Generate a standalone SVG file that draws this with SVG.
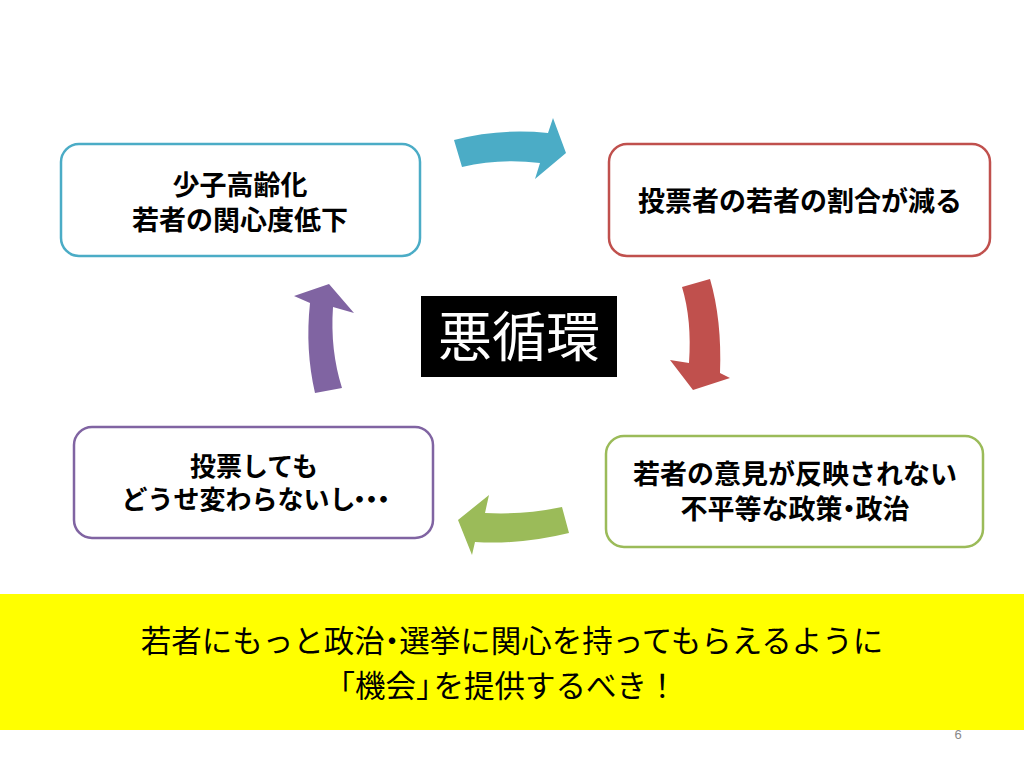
<svg xmlns="http://www.w3.org/2000/svg" width="1024" height="768" viewBox="0 0 1024 768">
<style>
.box{fill:#fff;stroke-width:2.5}
.t{font-family:"Noto Sans CJK JP","Liberation Sans",sans-serif;font-weight:bold;font-size:27px;fill:#000;text-anchor:middle}
.y{font-family:"Noto Sans CJK JP","Liberation Sans",sans-serif;font-size:30.5px;fill:#000;text-anchor:middle}
</style>
<rect width="1024" height="768" fill="#fff"/>
<g id="connectors">
<path d="M454,140 Q500,128 548,133 L553,118 L566,153 L535,179 L540,163 Q500,158 462,167 Z" fill="#4BACC6"/>
<path d="M682,287 L710,279 Q722,320 720,373 L730,378 L693,390 L670,360 L689,363 Q692,320 682,287 Z" fill="#C0504D"/>
<path d="M562,507 L569,533 Q520,545 475,542 L472,555 L458,520 L489,495 L485,513 Q525,515 562,507 Z" fill="#9BBB59"/>
<path d="M315,393 L342,388 Q330,350 333,307 L354,313 L329,284 L294,296 L310,303 Q305,350 315,393 Z" fill="#8064A2"/>
</g>
<g id="node1">
<rect class="box" x="61" y="144" width="359" height="112" rx="18" stroke="#4BACC6"/>
<text class="t" x="240" y="195">少子高齢化</text>
<text class="t" x="240" y="230">若者の関心度低下</text>
</g>
<g id="node2">
<rect class="box" x="609" y="144" width="381" height="112" rx="18" stroke="#C0504D"/>
<text class="t" x="800" y="211">投票者の若者の割合が減る</text>
</g>
<g id="node3">
<rect class="box" x="606" y="436" width="377" height="111" rx="18" stroke="#9BBB59"/>
<text class="t" x="795" y="484">若者の意見が反映されない</text>
<text class="t" x="795" y="519">不平等な政策<tspan dx="-7" letter-spacing="-7">・</tspan>政治</text>
</g>
<g id="node4">
<rect class="box" x="74" y="427" width="359" height="111" rx="18" stroke="#8064A2"/>
<text class="t" x="254" y="476" style="font-size:26px">投票しても</text>
<text class="t" x="252" y="509" style="font-size:26px">どうせ変わらないし<tspan dx="-9" letter-spacing="-14">・・・</tspan></text>
</g>
<g id="center">
<rect x="421" y="296" width="196" height="81" fill="#000"/>
<text x="519" y="357" style="font-family:'Noto Sans CJK JP','Liberation Sans',sans-serif;font-size:54px;fill:#fff;text-anchor:middle">悪循環</text>
</g>
<g id="banner">
<rect x="0" y="594" width="1024" height="136" fill="#FFFF00"/>
<text class="y" x="512" y="652">若者にもっと政治<tspan dx="-8" letter-spacing="-8">・</tspan>選挙に関心を持ってもらえるように</text>
<text class="y" x="507" y="697"><tspan dx="-6">「</tspan>機会<tspan letter-spacing="-13">」</tspan>を提供するべき！</text>
</g>
<text x="958" y="739" style="font-family:'Liberation Sans',sans-serif;font-size:13px;fill:#888;text-anchor:middle">6</text>
</svg>
